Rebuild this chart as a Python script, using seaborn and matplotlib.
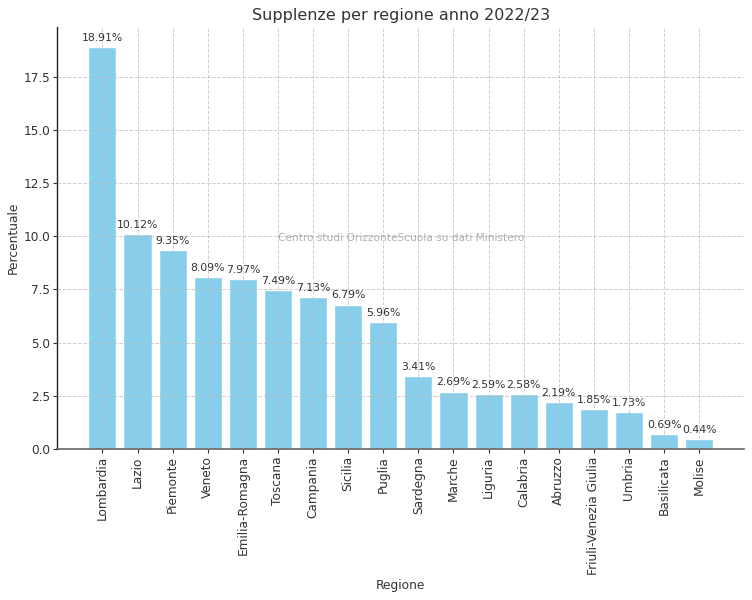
import matplotlib
matplotlib.use("Agg")
import matplotlib.pyplot as plt
import seaborn as sns
import pandas as pd

regioni = ["Lombardia", "Lazio", "Piemonte", "Veneto", "Emilia-Romagna", "Toscana",
           "Campania", "Sicilia", "Puglia", "Sardegna", "Marche", "Liguria", "Calabria",
           "Abruzzo", "Friuli-Venezia Giulia", "Umbria", "Basilicata", "Molise"]
percentuali = [18.91, 10.12, 9.35, 8.09, 7.97, 7.49, 7.13, 6.79, 5.96, 3.41, 2.69,
               2.59, 2.58, 2.19, 1.85, 1.73, 0.69, 0.44]

df = pd.DataFrame({"Regione": regioni, "Percentuale": percentuali})

sns.set_style("white")
plt.rcParams["font.family"] = ["DejaVu Sans"]
plt.rcParams["text.color"] = "#333333"
plt.rcParams["axes.labelcolor"] = "#333333"
plt.rcParams["xtick.color"] = "#333333"
plt.rcParams["ytick.color"] = "#333333"

fig, ax = plt.subplots(figsize=(7.52, 6), dpi=100)
sns.barplot(data=df, x="Regione", y="Percentuale", color="skyblue", saturation=1,
            width=0.8, ax=ax)
ax.margins(x=0.05, y=0.05)
ax.set_ylim(0, max(percentuali) * 1.05)

for p, v in zip(ax.patches, percentuali):
    ax.annotate(f"{v:.2f}%", (p.get_x() + p.get_width() / 2, p.get_height()),
                ha="center", va="bottom", fontsize=7.8, color="#333333",
                xytext=(0, 3), textcoords="offset points")

ax.set_title("Supplenze per regione anno 2022/23", fontsize=11.5, pad=5)
ax.set_xlabel("Regione", fontsize=8.8, labelpad=3)
ax.set_ylabel("Percentuale", fontsize=8.8, labelpad=3)
ax.tick_params(axis="x", rotation=90, labelsize=8.7, length=2.9, pad=2.4, width=0.8, bottom=True)
ax.tick_params(axis="y", labelsize=8.7, length=2.9, pad=2.0, width=0.8, left=True)
ax.grid(True, linestyle="--", color="#bbbbbb", alpha=0.7, linewidth=0.7)
ax.set_axisbelow(False)
for s in ["top", "right"]:
    ax.spines[s].set_visible(False)
ax.spines["left"].set_color("#222222")
ax.spines["left"].set_linewidth(1.0)
ax.spines["bottom"].set_color("#666666")
ax.spines["bottom"].set_linewidth(1.2)

ax.text(0.5, 0.5, "Centro studi OrizzonteScuola su dati Ministero", transform=ax.transAxes,
        ha="center", va="center", fontsize=7.6, color="gray", alpha=0.6)

fig.subplots_adjust(left=0.076, right=0.99, top=0.955, bottom=0.252)
fig.savefig("out.png", dpi=100)
